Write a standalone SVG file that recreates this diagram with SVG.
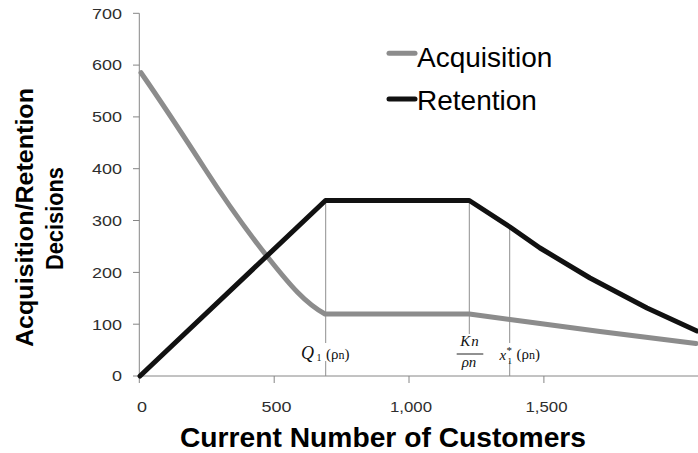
<svg xmlns="http://www.w3.org/2000/svg" width="698" height="453" viewBox="0 0 698 453">
  <style>
    .axis { stroke: #868686; stroke-width: 1; fill: none; }
    .tick { font-family: "Liberation Sans", Arial, sans-serif; font-size: 15px; fill: #2e2e2e; }
    .title { font-family: "Liberation Sans", Arial, sans-serif; font-weight: bold; fill: #000; }
    .legend { font-family: "Liberation Sans", Arial, sans-serif; font-size: 28px; fill: #000; }
    .acq { stroke: #8c8c8c; stroke-width: 5; fill: none; stroke-linejoin: round; stroke-linecap: round; }
    .ret { stroke: #111; stroke-width: 5; fill: none; stroke-linejoin: round; stroke-linecap: round; }
    .drop { stroke: #8f8f8f; stroke-width: 1; fill: none; }
    .math { font-family: "Liberation Serif", "Times New Roman", serif; fill: #111; }
  </style>
  <rect width="698" height="453" fill="#fff"/>

  <!-- axes -->
  <g id="axes">
    <path class="axis" d="M139.3 13.3 V383 M133 376 H698"/>
    <path class="axis" d="M133 13.3 H139.3 M133 65.1 H139.3 M133 116.9 H139.3 M133 168.7 H139.3 M133 220.5 H139.3 M133 272.4 H139.3 M133 324.2 H139.3"/>
    <path class="axis" d="M274.2 376 V383 M409 376 V383 M543.9 376 V383"/>
  </g>

  <!-- y tick labels -->
  <g id="y-labels" class="tick" text-anchor="end">
    <text x="122" y="18.6" textLength="30" lengthAdjust="spacingAndGlyphs">700</text>
    <text x="122" y="70.4" textLength="30" lengthAdjust="spacingAndGlyphs">600</text>
    <text x="122" y="122.2" textLength="30" lengthAdjust="spacingAndGlyphs">500</text>
    <text x="122" y="174" textLength="30" lengthAdjust="spacingAndGlyphs">400</text>
    <text x="122" y="225.8" textLength="30" lengthAdjust="spacingAndGlyphs">300</text>
    <text x="122" y="277.7" textLength="30" lengthAdjust="spacingAndGlyphs">200</text>
    <text x="122" y="329.5" textLength="30" lengthAdjust="spacingAndGlyphs">100</text>
    <text x="122" y="381.3" textLength="10" lengthAdjust="spacingAndGlyphs">0</text>
  </g>

  <!-- x tick labels -->
  <g id="x-labels" class="tick" text-anchor="middle">
    <text x="142" y="412" textLength="10" lengthAdjust="spacingAndGlyphs">0</text>
    <text x="276.5" y="412" textLength="30" lengthAdjust="spacingAndGlyphs">500</text>
    <text x="411" y="412" textLength="42" lengthAdjust="spacingAndGlyphs">1,000</text>
    <text x="546.5" y="412" textLength="42" lengthAdjust="spacingAndGlyphs">1,500</text>
  </g>

  <!-- axis titles -->
  <g id="x-title">
    <text class="title" x="180" y="447" font-size="27" textLength="406" lengthAdjust="spacingAndGlyphs">Current Number of Customers</text>
  </g>
  <g id="y-title" class="title" font-size="23" text-anchor="middle">
    <text transform="translate(33 217.5) rotate(-90)" textLength="259" lengthAdjust="spacingAndGlyphs">Acquisition/Retention</text>
    <text transform="translate(63 218.5) rotate(-90)" textLength="103" lengthAdjust="spacingAndGlyphs">Decisions</text>
  </g>

  <!-- drop lines to the axis -->
  <g id="connectors">
    <line class="drop" x1="325.7" y1="200.5" x2="325.7" y2="376"/>
    <line class="drop" x1="469.3" y1="200.5" x2="469.3" y2="334"/>
    <line class="drop" x1="509.7" y1="227" x2="509.7" y2="376"/>
  </g>

  <!-- data series -->
  <g id="series-acquisition">
    <path class="acq" d="M141 72.7 C160 100 185 138 205 169 C225 200 250 235 270 260 C290 285 305 303 325 314 L469.3 314 L510 319.5 L600 331.5 L696 343.5"/>
  </g>
  <g id="series-retention">
    <polyline class="ret" points="140,376 325.5,200.5 469.3,200.5 510,227 540,248 590,278 647,308 697,331"/>
  </g>

  <!-- point labels -->
  <g id="label-q1">
    <rect x="300" y="343" width="55" height="18" fill="#fff"/>
    <text class="math" x="301" y="358.5" font-size="18" font-style="italic">Q</text>
    <text class="math" x="316.5" y="361" font-size="10">1</text>
    <text class="math" x="326" y="358.5" font-size="15">(ρ<tspan font-size="12">n</tspan>)</text>
  </g>
  <g id="label-kn">
    <text class="math" x="470" y="345.5" font-size="15" font-style="italic" text-anchor="middle" letter-spacing="1">Kn</text>
    <line x1="456.7" y1="354" x2="483.3" y2="354" stroke="#222" stroke-width="1"/>
    <text class="math" x="469" y="367" font-size="15" font-style="italic" text-anchor="middle">ρn</text>
  </g>
  <g id="label-x1">
    <rect x="498" y="343" width="47" height="18" fill="#fff"/>
    <text class="math" x="499.5" y="359.5" font-size="15" font-style="italic">x</text>
    <text class="math" x="506.5" y="354" font-size="11">*</text>
    <text class="math" x="507.5" y="363.5" font-size="9">1</text>
    <text class="math" x="516.5" y="358.5" font-size="15">(ρ<tspan font-size="12">n</tspan>)</text>
  </g>

  <!-- legend -->
  <g id="legend">
    <line class="acq" x1="389" y1="53.3" x2="415" y2="53.3" stroke-linecap="butt"/>
    <text class="legend" x="417" y="66.7">Acquisition</text>
    <line class="ret" x1="389" y1="99" x2="415" y2="99" stroke-linecap="butt"/>
    <text class="legend" x="417" y="110">Retention</text>
  </g>
</svg>
